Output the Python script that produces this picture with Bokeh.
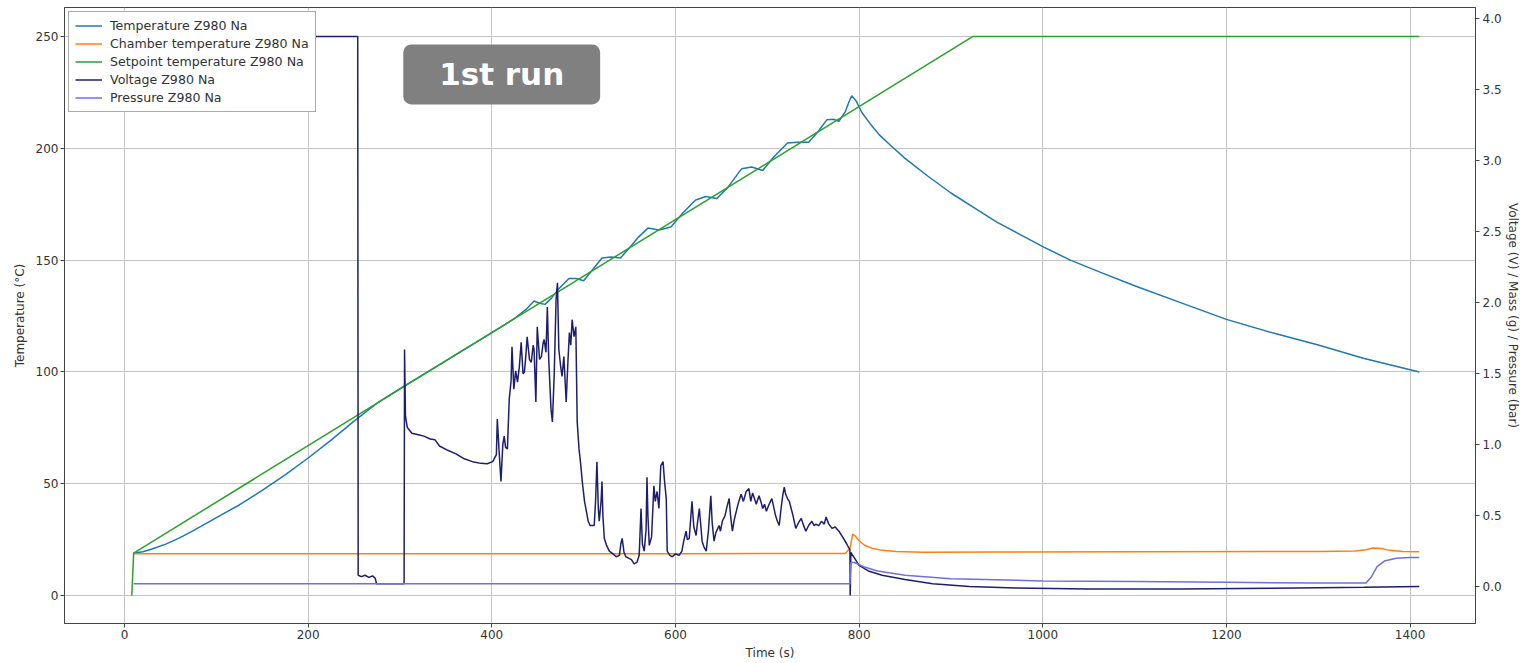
from bokeh.plotting import figure
from bokeh.models import (Range1d, LinearAxis, Legend, LegendItem, BoxAnnotation,
                          Label, FixedTicker, NumeralTickFormatter)
from bokeh.embed import file_html
from bokeh.resources import INLINE

# ---------------- data ----------------
x_ticks = [0, 200, 400, 600, 800, 1000, 1200, 1400]
left_ticks = [0, 50, 100, 150, 200, 250]
right_ticks = [0.0, 0.5, 1.0, 1.5, 2.0, 2.5, 3.0, 3.5, 4.0]

temp_t = [10, 20, 30, 45, 60, 75, 90, 105, 125, 150, 175, 200, 225, 250, 275, 300,
          330, 360, 390, 410, 425, 438, 446, 452, 458, 465, 472, 484, 492, 500, 508,
          520, 530, 540, 550, 560, 570, 582, 595, 608, 622, 633, 645, 657, 672, 683,
          695, 707, 722, 733, 745, 755, 765, 772, 778, 785, 789, 792, 797, 803, 812,
          822, 835, 850, 875, 900, 925, 950, 975, 1000, 1030, 1063, 1100, 1150, 1200,
          1250, 1300, 1350, 1410]
temp_v = [19, 19.6, 20.8, 23, 25.8, 29, 32.5, 36, 40.5, 47, 54, 61.5, 69.5, 78, 86, 92.5,
          100, 107.5, 115, 120, 124, 128.2, 131.7, 130.7, 130.2, 133, 136.7, 141.8, 141.8, 140.8, 144.8,
          150.9, 151.4, 150.9, 155.5, 160.4, 164.3, 163.5, 164.8, 171.1, 176.9, 178.4, 177.5, 182.5, 190.8, 191.6,
          190.1, 196.1, 202.4, 202.7, 202.7, 207.3, 212.8, 213.0, 212.1, 216.4, 220.8, 223.5, 221, 216, 211,
          206, 201, 195.5, 187.5, 180, 173.5, 167, 161.5, 156, 150, 144.5, 138.5, 131, 123.5,
          117.5, 112, 106, 100]

cham_t = [10, 200, 400, 600, 785, 790, 793, 796, 800, 806, 815, 825, 840, 870, 950, 1100,
          1300, 1340, 1352, 1360, 1368, 1378, 1392, 1410]
cham_v = [18.7, 18.7, 18.7, 18.7, 18.8, 21, 27.5, 26.5, 24.5, 22.5, 21, 20.2, 19.7, 19.4, 19.5, 19.6,
          19.7, 19.9, 20.5, 21.3, 21.0, 20.2, 19.7, 19.6]

setp_t = [8, 10, 924, 1410]
setp_v = [0, 19, 250, 250]

volt_t = [10, 254, 254.5, 258, 262, 266, 270, 273, 274.5, 304.5, 305, 306, 308, 313, 320, 326,
          333, 338, 343, 352, 361, 370, 379, 388, 395, 401, 405, 406, 408, 410, 412, 413.5,
          415, 417, 419, 421, 422, 424, 426, 428, 430, 432, 434, 435.5, 437, 438.5, 441, 443,
          445, 446, 448, 449.5, 452, 454, 456, 457, 459, 460.5, 462, 464.5, 466, 468, 470,
          471.5, 473, 475, 476.5, 478.5, 481, 483, 484.5, 486, 487.5, 489.5, 491.5, 493, 495,
          497, 498.5, 501, 503, 505, 507, 509, 511.5, 513, 514.5, 516, 517, 519, 520, 521,
          522.5, 525, 528, 532, 535.5, 539, 540.5, 542, 544, 546, 549, 552, 555, 558, 560.5,
          562.5, 564, 566, 568, 569, 570, 571.5, 574, 576.5, 578, 580, 582, 584, 586.5, 588,
          590, 591, 594, 596.5, 600, 604, 607, 609, 611.5, 613, 615, 618, 620, 622.5, 624, 626,
          628, 629, 631, 633.5, 636, 638.5, 640, 642, 644, 647.5, 649, 651, 654, 656, 658.5,
          660, 662, 664, 667, 669, 671.5, 674, 677, 680, 682, 684, 686, 688, 691, 693, 695,
          697, 699, 702, 705, 707, 709, 711, 713, 715, 717, 718.5, 720, 722, 724, 726, 728,
          731, 734, 737, 739, 742, 745, 748.5, 751, 753, 756, 759, 762, 764, 767, 770.5, 774,
          778, 782, 786.5, 789, 790, 790.3, 791, 795, 800, 810, 825, 850, 880, 920, 970, 1050,
          1150, 1250, 1350, 1410]
volt_v = [3.875, 3.875, 0.08, 0.07, 0.08, 0.065, 0.075, 0.06, 0.02, 0.02, 1.67, 1.2, 1.12, 1.08, 1.07, 1.06,
          1.04, 1.035, 0.99, 0.96, 0.935, 0.9, 0.88, 0.868, 0.865, 0.88, 0.93, 1.18, 0.95, 0.74, 1.0, 1.06,
          0.98, 0.97, 1.32, 1.45, 1.69, 1.39, 1.52, 1.44, 1.55, 1.72, 1.5, 1.51, 1.62, 1.76, 1.6, 1.58,
          1.7, 1.67, 1.30, 1.83, 1.6, 1.62, 1.72, 1.74, 1.65, 1.97, 1.6, 1.25, 1.16, 1.5, 2.02,
          2.14, 1.67, 1.55, 1.48, 1.62, 1.30, 1.6, 1.79, 1.7, 1.88, 1.76, 1.83, 1.16, 0.97,
          0.85, 0.74, 0.6, 0.53, 0.46, 0.43, 0.43, 0.43, 0.6, 0.88, 0.55, 0.46, 0.6, 0.74, 0.5,
          0.34, 0.29, 0.25, 0.23, 0.21, 0.22, 0.3, 0.34, 0.24, 0.21, 0.2, 0.19, 0.16, 0.17, 0.22,
          0.55, 0.3, 0.25, 0.4, 0.77, 0.5, 0.29, 0.35, 0.71, 0.6, 0.67, 0.55, 0.85, 0.88, 0.75,
          0.62, 0.25, 0.22, 0.21, 0.23, 0.22, 0.25, 0.32, 0.39, 0.33, 0.34, 0.6, 0.42, 0.36, 0.45, 0.55,
          0.4, 0.32, 0.28, 0.25, 0.4, 0.64, 0.45, 0.32, 0.38, 0.43, 0.39, 0.46, 0.5, 0.56, 0.62,
          0.5, 0.39, 0.47, 0.55, 0.6, 0.65, 0.6, 0.67, 0.69, 0.6, 0.66, 0.62, 0.58, 0.64, 0.6, 0.55,
          0.58, 0.53, 0.58, 0.62, 0.56, 0.5, 0.46, 0.43, 0.55, 0.65, 0.7, 0.65, 0.62, 0.6, 0.55, 0.5,
          0.41, 0.45, 0.48, 0.44, 0.39, 0.43, 0.46, 0.43, 0.44, 0.43, 0.46, 0.44, 0.49, 0.44, 0.41, 0.42,
          0.39, 0.35, 0.3, 0.27, 0.26, -0.063, 0.24, 0.2, 0.15, 0.11, 0.08, 0.05, 0.02, 0.0, -0.01, -0.017,
          -0.017, -0.012, -0.005, 0.0]

press_t = [10, 790, 791, 795, 805, 820, 850, 900, 1000, 1100, 1200, 1300, 1352, 1358, 1364,
           1372, 1385, 1400, 1410]
press_v = [0.02, 0.02, 0.17, 0.17, 0.14, 0.11, 0.08, 0.055, 0.04, 0.035, 0.03, 0.025, 0.025, 0.07, 0.14,
           0.18, 0.2, 0.205, 0.205]

series_names = ["Temperature Z980 Na", "Chamber temperature Z980 Na", "Setpoint temperature Z980 Na",
                "Voltage Z980 Na", "Pressure Z980 Na"]
badge_text = "1st run"

# ---------------- figure ----------------
FONT = "DejaVu Sans"
TXT = "#333333"

p = figure(width=1522, height=662, output_backend="svg", toolbar_location=None,
           x_range=Range1d(-65.3, 1471.2), y_range=Range1d(-12.5, 262.95),
           min_border_left=64, min_border_right=46, min_border_top=7, min_border_bottom=37,
           background_fill_color="white", border_fill_color="white")
p.extra_y_ranges = {"right": Range1d(-0.26, 4.079)}

p.outline_line_color = "#444444"
p.outline_line_width = 1

p.xgrid.ticker = FixedTicker(ticks=x_ticks)
p.ygrid.ticker = FixedTicker(ticks=left_ticks)
for g in (p.xgrid, p.ygrid):
    g.grid_line_color = "#c4c4c4"
    g.grid_line_width = 1

def style_axis(ax, size="12px"):
    ax.axis_line_color = "#444444"
    ax.major_tick_line_color = "#444444"
    ax.major_tick_in = 0
    ax.major_tick_out = 4
    ax.minor_tick_line_color = None
    ax.major_label_text_font = FONT
    ax.major_label_text_font_size = size
    ax.major_label_text_color = TXT
    ax.axis_label_text_font = FONT
    ax.axis_label_text_font_size = size
    ax.axis_label_text_color = TXT
    ax.axis_label_text_font_style = "normal"
    ax.major_label_standoff = 2
    ax.axis_label_standoff = 2

xa = p.xaxis[0]
xa.ticker = FixedTicker(ticks=x_ticks)
xa.axis_label = "Time (s)"
style_axis(xa, "12px")
xa.major_label_standoff = 2
xa.axis_label_standoff = 4

ya = p.yaxis[0]
ya.ticker = FixedTicker(ticks=left_ticks)
ya.axis_label = "Temperature (°C)"
style_axis(ya, "12px")
ya.axis_label_standoff = 6

ax_r = LinearAxis(y_range_name="right", axis_label="Voltage (V) / Mass (g) / Pressure (bar)",
                  ticker=FixedTicker(ticks=right_ticks), formatter=NumeralTickFormatter(format="0.0"))
style_axis(ax_r, "12px")
ax_r.major_label_standoff = 3
ax_r.axis_label_standoff = 1
p.add_layout(ax_r, "right")

LW = 1.5
r1 = p.line(temp_t, temp_v, line_color="#1f77b4", line_width=LW)
r2 = p.line(cham_t, cham_v, line_color="#ff7f0e", line_width=LW)
r3 = p.line(setp_t, setp_v, line_color="#2ca02c", line_width=LW)
r4 = p.line(volt_t, volt_v, line_color="#1e1e6e", line_width=LW, y_range_name="right")
r5 = p.line(press_t, press_v, line_color="#7070d8", line_width=LW, y_range_name="right")

legend = Legend(items=[LegendItem(label=n, renderers=[r]) for n, r in
                       zip(series_names, [r1, r2, r3, r4, r5])],
                location="top_left", margin=4, padding=6, spacing=3,
                glyph_width=27, glyph_height=15, label_height=15, label_standoff=8,
                label_text_font=FONT, label_text_font_size="12.6px", label_text_color=TXT,
                border_line_color="#555555", border_line_width=1,
                background_fill_color="white", background_fill_alpha=1)
p.add_layout(legend)

badge = BoxAnnotation(left=303.6, right=518, bottom=219.6, top=246.4,
                      fill_color="#808080", fill_alpha=1, line_color=None, border_radius=8)
p.add_layout(badge)
p.add_layout(Label(x=410.8, y=233, text=badge_text, text_align="center", text_baseline="middle",
                   text_color="white", text_font=FONT, text_font_style="bold",
                   text_font_size="31px"))

open("out.html", "w").write(file_html(p, INLINE))
